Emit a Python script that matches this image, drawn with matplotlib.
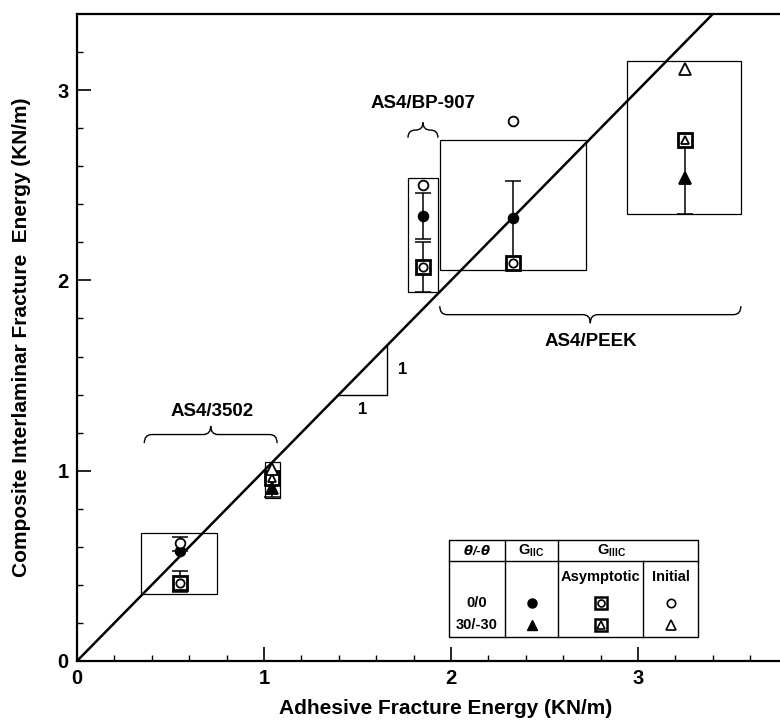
import matplotlib
matplotlib.use("Agg")
import matplotlib.pyplot as plt
from matplotlib.path import Path
from matplotlib.patches import PathPatch, Rectangle
from matplotlib.ticker import MultipleLocator

plt.rcParams['font.family'] = ['Liberation Sans', 'DejaVu Sans']
plt.rcParams['font.weight'] = 'bold'

# ---- data (KN/m) ----
# G_IIC (filled symbols)
giic_circle_x = [0.55, 1.85, 2.33]
giic_circle_y = [0.58, 2.34, 2.33]
giic_circle_lo = [0.58, 2.22, 2.09]
giic_circle_hi = [0.65, 2.46, 2.52]
giic_tri_x = [1.044, 3.25]
giic_tri_y = [0.91, 2.54]
giic_tri_lo = [0.86, 2.35]
giic_tri_hi = [0.96, 2.74]
# G_IIIC asymptotic (boxed symbols)
asym_circle_x = [0.55, 1.85, 2.33]
asym_circle_y = [0.41, 2.07, 2.09]
asym_circle_lo = [0.36, 1.94, 2.09]
asym_circle_hi = [0.475, 2.20, 2.09]
asym_tri_x = [1.044, 3.25]
asym_tri_y = [0.96, 2.74]
# G_IIIC initial (open symbols)
init_circle_x = [0.55, 1.85, 2.33]
init_circle_y = [0.62, 2.50, 2.84]
init_tri_x = [1.044, 3.25]
init_tri_y = [1.01, 3.11]
# data envelopes per material/layup
box_x0 = [0.344, 1.004, 1.77, 1.94, 2.94]
box_x1 = [0.75, 1.086, 1.93, 2.72, 3.55]
box_y0 = [0.352, 0.858, 1.94, 2.055, 2.347]
box_y1 = [0.67, 1.047, 2.536, 2.74, 3.155]

x_ticks = [0, 1, 2, 3]
y_ticks = [0, 1, 2, 3]

fig = plt.figure(figsize=(7.8, 7.2), dpi=100)
ax = fig.add_axes([77 / 780, 59 / 720, 703 / 780, 647 / 720])
ax.set_xlim(0, 703 / 187)
ax.set_ylim(0, 647 / 190.3)
ax.spines['right'].set_visible(False)
for s in ['left', 'bottom', 'top']:
    ax.spines[s].set_linewidth(1.6)
ax.set_xticks(x_ticks)
ax.set_yticks(y_ticks)
ax.xaxis.set_minor_locator(MultipleLocator(0.2))
ax.yaxis.set_minor_locator(MultipleLocator(0.2))
ax.tick_params(which='major', direction='in', length=10, width=1.2,
               labelsize=14.5, top=False, right=False, pad=6)
ax.tick_params(which='minor', direction='in', length=4, width=1.0,
               top=False, right=False)
for lab in ax.get_xticklabels() + ax.get_yticklabels():
    lab.set_fontweight('bold')

fig.text(446 / 780, 12 / 720, 'Adhesive Fracture Energy (KN/m)',
         ha='center', va='center', fontsize=15, fontweight='bold')
fig.text(22 / 780, 1 - 337 / 720, 'Composite Interlaminar Fracture  Energy (KN/m)',
         ha='center', va='center', rotation=90, fontsize=15, fontweight='bold')

# equality line
ax.plot([0, 4], [0, 4], color='black', lw=1.8, zorder=3)

# slope triangle
ax.plot([1.40, 1.66, 1.66], [1.40, 1.40, 1.66], color='black', lw=1.0, zorder=3)
ax.text(1.74, 1.53, '1', fontsize=12, fontweight='bold', ha='center', va='center')
ax.text(1.53, 1.32, '1', fontsize=12, fontweight='bold', ha='center', va='center')

# envelopes
for x0, x1, y0, y1 in zip(box_x0, box_x1, box_y0, box_y1):
    ax.add_patch(Rectangle((x0, y0), x1 - x0, y1 - y0, fill=False,
                           edgecolor='black', lw=0.9, zorder=2))


def brace(x0, x1, y, h, up=True):
    """Horizontal curly brace from x0 to x1 at height y; tip points up if up."""
    s = 1 if up else -1
    xc = (x0 + x1) / 2
    d = 0.04
    verts = [(x0, y - s * h), (x0, y), (x0 + d, y),
             (xc - d, y), (xc, y), (xc, y + s * h),
             (xc, y), (xc + d, y),
             (x1 - d, y), (x1, y), (x1, y - s * h)]
    codes = [Path.MOVETO, Path.CURVE3, Path.CURVE3,
             Path.LINETO, Path.CURVE3, Path.CURVE3,
             Path.CURVE3, Path.CURVE3,
             Path.LINETO, Path.CURVE3, Path.CURVE3]
    ax.add_patch(PathPatch(Path(verts, codes), fill=False, lw=1.0,
                           edgecolor='black', zorder=3))


brace(0.36, 1.07, 1.19, 0.045, up=True)
ax.text(0.72, 1.31, 'AS4/3502', fontsize=13.5, fontweight='bold', ha='center', va='center')
brace(1.77, 1.93, 2.79, 0.04, up=True)
ax.text(1.85, 2.93, 'AS4/BP-907', fontsize=13.5, fontweight='bold', ha='center', va='center')
brace(1.94, 3.55, 1.82, 0.045, up=False)
ax.text(2.75, 1.68, 'AS4/PEEK', fontsize=13.5, fontweight='bold', ha='center', va='center')

# error bars
ebkw = dict(fmt='none', ecolor='black', elinewidth=1.1, capsize=6, capthick=1.1, zorder=4)
ax.errorbar(giic_circle_x, giic_circle_y,
            yerr=[[y - lo for y, lo in zip(giic_circle_y, giic_circle_lo)],
                  [hi - y for y, hi in zip(giic_circle_y, giic_circle_hi)]], **ebkw)
ax.errorbar(giic_tri_x, giic_tri_y,
            yerr=[[y - lo for y, lo in zip(giic_tri_y, giic_tri_lo)],
                  [hi - y for y, hi in zip(giic_tri_y, giic_tri_hi)]], **ebkw)
ax.errorbar(asym_circle_x, asym_circle_y,
            yerr=[[y - lo for y, lo in zip(asym_circle_y, asym_circle_lo)],
                  [hi - y for y, hi in zip(asym_circle_y, asym_circle_hi)]], **ebkw)


def boxed(xs, ys, inner, **kw):
    ax.plot(xs, ys, ls='none', marker='s', ms=10, mfc='white', mec='black', mew=2.0, zorder=5, **kw)
    ax.plot(xs, ys, ls='none', marker=inner, ms=6, mfc='white', mec='black', mew=1.3, zorder=6, **kw)


def points(ax_, xs, ys, marker, filled, ms=7.0):
    ax_.plot(xs, ys, ls='none', marker=marker, ms=ms,
             mfc='black' if filled else 'white', mec='black', mew=1.3, zorder=6)


points(ax, giic_circle_x, giic_circle_y, 'o', True)
points(ax, giic_tri_x, giic_tri_y, '^', True, ms=8)
boxed(asym_circle_x, asym_circle_y, 'o')
boxed(asym_tri_x, asym_tri_y, '^')
points(ax, init_circle_x, init_circle_y, 'o', False)
points(ax, init_tri_x, init_tri_y, '^', False, ms=8)

# key table
tx = [1.989, 2.289, 2.572, 3.027, 3.321]
ty_top, ty_head, ty_bot = 0.636, 0.525, 0.126
lk = dict(color='black', lw=1.0, zorder=3)
ax.add_patch(Rectangle((tx[0], ty_bot), tx[-1] - tx[0], ty_top - ty_bot,
                       facecolor='white', edgecolor='black', lw=1.0, zorder=3))
ax.plot([tx[0], tx[-1]], [ty_head, ty_head], **lk)
ax.plot([tx[1], tx[1]], [ty_bot, ty_top], **lk)
ax.plot([tx[2], tx[2]], [ty_bot, ty_top], **lk)
ax.plot([tx[3], tx[3]], [ty_bot, ty_head], **lk)
hy = (ty_top + ty_head) / 2
fs = 10.5
ax.text((tx[0] + tx[1]) / 2, hy, r'$\theta$/-$\theta$', fontsize=fs - 1, ha='center', va='center', zorder=7,
        fontstyle='italic')
ax.text((tx[1] + tx[2]) / 2, hy, r'G$_{\mathregular{IIC}}$', fontsize=fs, ha='center', va='center', zorder=7)
ax.text(2.86, hy, r'G$_{\mathregular{IIIC}}$', fontsize=fs, ha='center', va='center', zorder=7)
ax.text((tx[2] + tx[3]) / 2, 0.441, 'Asymptotic', fontsize=fs, ha='center', va='center', zorder=7)
ax.text((tx[3] + tx[4]) / 2, 0.441, 'Initial', fontsize=fs, ha='center', va='center', zorder=7)
row_y = [0.305, 0.189]
ax.text((tx[0] + tx[1]) / 2, row_y[0], '0/0', fontsize=fs, ha='center', va='center', zorder=7)
ax.text((tx[0] + tx[1]) / 2, row_y[1], '30/-30', fontsize=fs, ha='center', va='center', zorder=7)
cx2 = (tx[1] + tx[2]) / 2
cx3 = (tx[2] + tx[3]) / 2
cx4 = (tx[3] + tx[4]) / 2
ax.plot([cx2], [row_y[0]], ls='none', marker='o', ms=6.5, color='black', zorder=7)
ax.plot([cx2], [row_y[1]], ls='none', marker='^', ms=7, color='black', zorder=7)
ax.plot([cx3], [row_y[0]], ls='none', marker='s', ms=9, mfc='white', mec='black', mew=1.8, zorder=7)
ax.plot([cx3], [row_y[0]], ls='none', marker='o', ms=5, mfc='white', mec='black', mew=1.2, zorder=8)
ax.plot([cx3], [row_y[1]], ls='none', marker='s', ms=9, mfc='white', mec='black', mew=1.8, zorder=7)
ax.plot([cx3], [row_y[1]], ls='none', marker='^', ms=5.5, mfc='white', mec='black', mew=1.2, zorder=8)
ax.plot([cx4], [row_y[0]], ls='none', marker='o', ms=6, mfc='white', mec='black', mew=1.2, zorder=7)
ax.plot([cx4], [row_y[1]], ls='none', marker='^', ms=6.5, mfc='white', mec='black', mew=1.2, zorder=7)

fig.savefig('out.png', dpi=100)
